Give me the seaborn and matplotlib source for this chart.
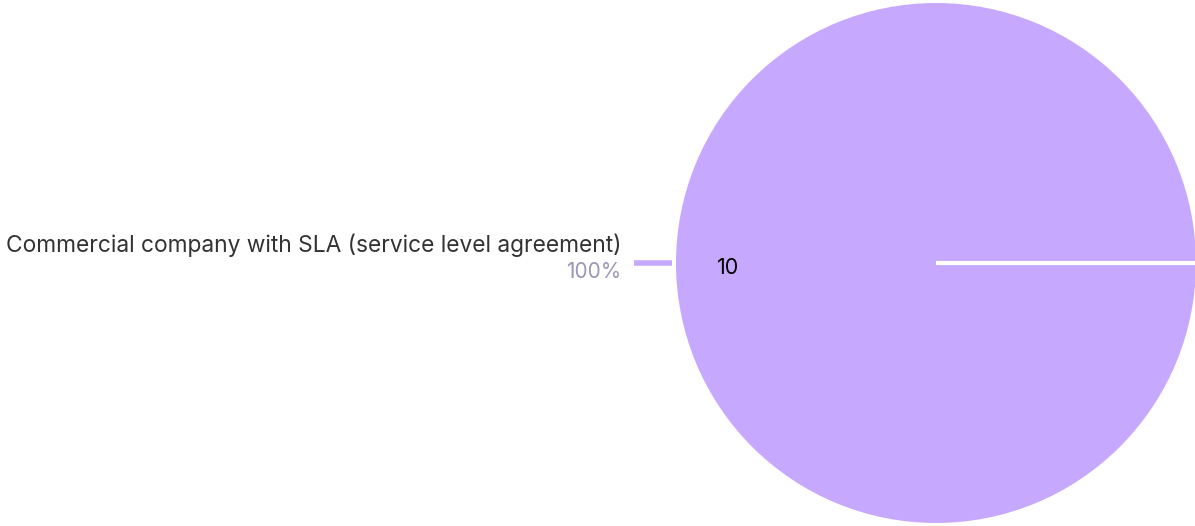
import numpy as np
import seaborn as sns
import matplotlib.pyplot as plt

# data
categories = ["Commercial company with SLA (service level agreement)"]
counts = [10]

sns.set_theme(style="white")
plt.rcParams["font.family"] = ["Inter", "DejaVu Sans"]

pie_color = "#c6a9fe"

fig = plt.figure(figsize=(11.95, 5.26), dpi=100)
ax = fig.add_axes([676 / 1195, 3 / 526, 520 / 1195, 520 / 526])

wedges, _ = ax.pie(
    counts,
    colors=[pie_color],
    startangle=0,
    counterclock=True,
    radius=1.0,
    wedgeprops=dict(linewidth=0),
)
ax.set_xlim(-1, 1)
ax.set_ylim(-1, 1)
ax.set_aspect("equal")
ax.axis("off")

total = sum(counts)
for w, cat, n in zip(wedges, categories, counts):
    # white separator along the wedge start
    a0 = np.deg2rad(w.theta1)
    ax.plot([0, np.cos(a0)], [0, np.sin(a0)], color="white", lw=3,
            solid_capstyle="butt", clip_on=False)
    ang = np.deg2rad((w.theta1 + w.theta2) / 2)
    cx, cy = np.cos(ang), np.sin(ang)
    # count label inside
    ax.text(0.8 * cx, 0.8 * cy - 0.018, str(n), ha="center", va="center",
            fontsize=15.5, color="black")
    # leader line
    ax.plot([1.015 * cx, 1.16 * cx], [1.015 * cy, 1.16 * cy],
            color=pie_color, lw=4, solid_capstyle="butt", clip_on=False)
    # outside labels
    ax.text(1.21 * cx, 1.21 * cy + 0.023, cat, ha="right", va="bottom",
            fontsize=16.4, color="#333333", clip_on=False)
    ax.text(1.21 * cx, 1.21 * cy + 0.003, f"{n / total * 100:.0f}%", ha="right",
            va="top", fontsize=15, color="#9b97b8", clip_on=False)

fig.savefig("out.png", dpi=100)
